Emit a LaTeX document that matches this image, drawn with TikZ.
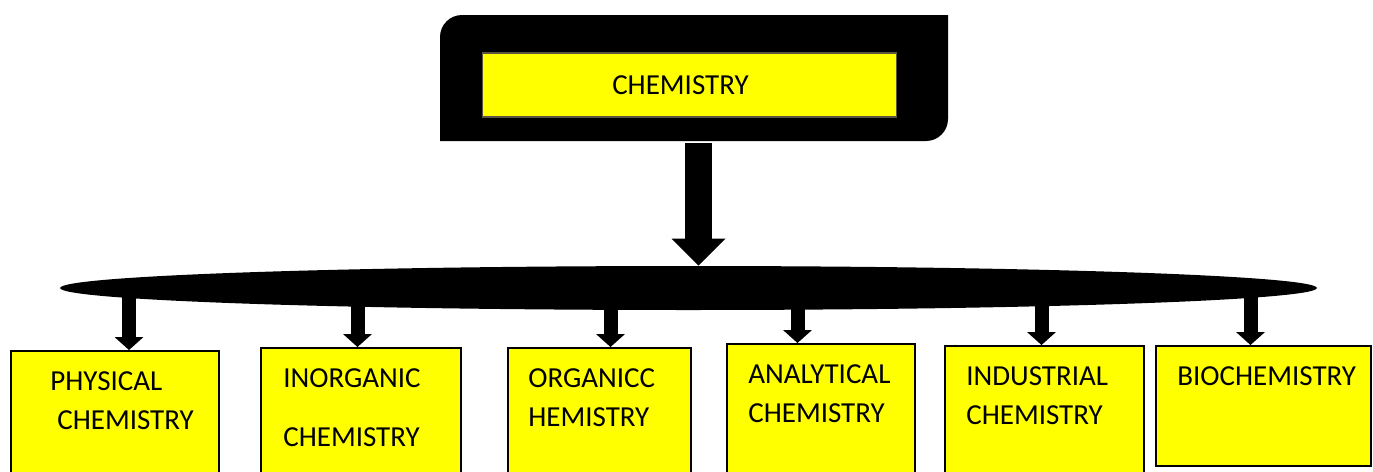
\documentclass[tikz,border=0pt]{standalone}
\usepackage{fontspec}
\setmainfont{Carlito}
\usetikzlibrary{arrows.meta,shapes.geometric}
\definecolor{fieldyellow}{RGB}{255,255,0}

\begin{document}
\begin{tikzpicture}[x=0.02cm,y=0.02cm,
    every node/.style={font=\fontsize{16.5}{22.2}\selectfont},
    field/.style={draw=black, line width=0.9pt, fill=fieldyellow, anchor=north west, inner sep=0},
    fieldtext/.style={anchor=north west, inner sep=0, align=left},
    mainarrow/.style={line width=0.54cm, -{Triangle[width=1.08cm,length=0.54cm,line width=0pt]}},
    subarrow/.style={line width=0.28cm, -{Triangle[width=0.58cm,length=0.26cm,line width=0pt]}}]

    \useasboundingbox (0,0) rectangle (1373,-471);
    \clip (0,0) rectangle (1373,-471);

    % Black frame round the title
    \fill (440,-141) -- (440,-37) arc[start angle=180,end angle=90,radius=0.44cm]
      -- (948,-15) -- (948,-119) arc[start angle=0,end angle=-90,radius=0.44cm] -- cycle;
    \node [field, draw=black!75!yellow, line width=0.6pt, anchor=center,
      minimum width=8.3cm, minimum height=1.28cm] (chem) at (689.5,-85) {\hspace*{-0.36cm}CHEMISTRY};

    % Bar
    \node [ellipse, fill=black, inner sep=0, minimum width=25.14cm, minimum height=0.88cm] (bar) at (688.5,-288) {};

    \coordinate (top) at (698.5,-143);
    \draw [mainarrow] (top) -- (top |- bar.north);

    % For each branch ...
    \foreach \n/\l/\r/\t/\b/\ax/\dx/\txt in {
        1/10/218/350/480/129/40/{PHYSICAL\\\hspace*{0.14cm}CHEMISTRY},
        2/260/460/347/480/357.5/23/{INORGANIC\\[11.4pt]CHEMISTRY},
        3/507/690/347/480/610.5/21/{ORGANICC\\HEMISTRY},
        4/726/914/343/480/797.5/22/{ANALYTICAL\\CHEMISTRY},
        5/944/1143/345/480/1041.5/22/{INDUSTRIAL\\CHEMISTRY},
        6/1155/1370/345/465/1250.5/22/{BIOCHEMISTRY}} {
      \pgfmathsetmacro\w{(\r-\l)*0.02}
      \pgfmathsetmacro\h{(\b-\t)*0.02}

      % Box and its text
      \node [field, minimum width=\w cm, minimum height=\h cm] (p\n) at (\l,-\t) {};
      \node [fieldtext] (t\n) at ([shift={(\dx,-21)}]p\n.north west) {\txt};

      % Arrow from the bar
      \coordinate (s\n) at (\ax,-290);
      \draw [subarrow] (s\n) -- (s\n |- p\n.north);
    }

  \end{tikzpicture}
\end{document}
